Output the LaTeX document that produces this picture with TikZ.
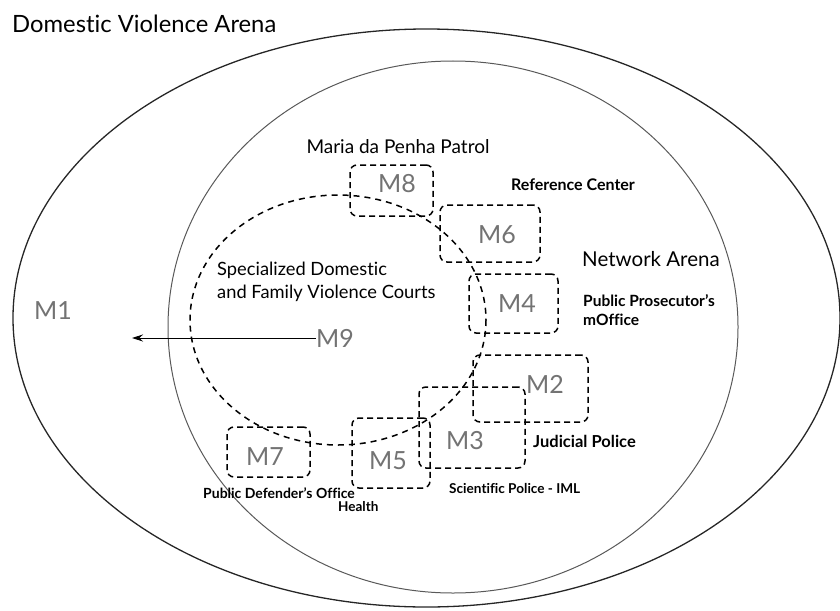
\documentclass[tikz,border=0pt]{standalone}
\usepackage{fontspec}
\setmainfont{Lato}[Ligatures=NoCommon]
\usetikzlibrary{arrows.meta}

\begin{document}
\begin{tikzpicture}[x=1pt,y=-1pt,
	mbox/.style={draw,line width=1.5pt,dash pattern=on 6pt off 4pt,rounded corners=7pt,inner sep=0pt},
	mtag/.style={text=black!55,font=\fontsize{25}{25}\selectfont,inner sep=0pt},
	arena/.style={font=\fontsize{19}{23}\selectfont,inner sep=0pt,anchor=west},
	office/.style={font=\bfseries\fontsize{14}{19}\selectfont,inner sep=0pt,anchor=west}]
	\useasboundingbox (0,0) rectangle (840,610);
	% arenas
	\draw[line width=1.3pt,color=black!85] (426.5,318) ellipse [x radius=413.5,y radius=289];
	\draw[line width=1pt,color=black!65] (453,327) ellipse [x radius=285,y radius=266];
	\draw[line width=1.5pt,dash pattern=on 6pt off 5pt] (338,320) ellipse [x radius=148,y radius=125];
	\node[arena,font=\fontsize{23.8}{27}\selectfont] (dva) at (12,24) {Domestic Violence Arena};
	\node[arena,font=\fontsize{20.5}{23}\selectfont] (na) at (582,259) {Network Arena};
	\node[arena,font=\fontsize{18.3}{23}\selectfont,align=left,anchor=north west] (courts) at (217,262) {Specialized Domestic\\and Family Violence Courts};
	% boxes
	\node[mbox,minimum width=83pt,minimum height=51pt] (m8) at (391.5,190.5) {};
	\node[mbox,minimum width=100pt,minimum height=57pt] (m6) at (490,233.5) {};
	\node[mbox,minimum width=89pt,minimum height=59pt] (m4) at (513.5,303.5) {};
	\node[mbox,minimum width=115pt,minimum height=67pt] (m2) at (530.5,388.5) {};
	\node[mbox,minimum width=106pt,minimum height=81pt] (m3) at (472,427.5) {};
	\node[mbox,minimum width=78pt,minimum height=70pt] (m5) at (391,453) {};
	\node[mbox,minimum width=83pt,minimum height=50pt] (m7) at (268.5,452) {};
	\node[mtag] (m8t) at (397,184) {M8};
	\node[mtag] (m6t) at (497,235) {M6};
	\node[mtag] (m4t) at (517,304) {M4};
	\node[mtag] (m2t) at (545,384) {M2};
	\node[mtag] (m3t) at (465,441) {M3};
	\node[mtag] (m5t) at (388,461) {M5};
	\node[mtag] (m7t) at (265,457) {M7};
	\node[mtag] (m1) at (53,311) {M1};
	\node[mtag] (m9) at (335,338) {M9};
	% office names
	\node[office,font=\fontsize{19}{19}\selectfont,anchor=center] (patrol) at (398,147) {Maria da Penha Patrol};
	\node[office,font=\bfseries\fontsize{16}{19}\selectfont,anchor=center] (refc) at (573,185) {Reference Center};
	\node[office,font=\bfseries\fontsize{15.5}{19}\selectfont,align=left,anchor=north west] (ppo) at (583,294) {Public Prosecutor's\\mOffice};
	\node[office,font=\bfseries\fontsize{16.5}{19}\selectfont] (jp) at (533,441) {Judicial Police};
	\node[office,font=\bfseries\fontsize{13.6}{19}\selectfont] (sp) at (449,488) {Scientific Police - IML};
	\node[office] (pdo) at (203,493) {Public Defender's Office};
	\node[office,font=\bfseries\fontsize{13.5}{19}\selectfont] (hlth) at (338,507) {Health};
	% M9 towards M1
	\coordinate (tip) at (132,338);
	\draw[-{Stealth[length=11pt,width=7pt]},line width=0.9pt] (m9.west) -- (tip);
\end{tikzpicture}
\end{document}
